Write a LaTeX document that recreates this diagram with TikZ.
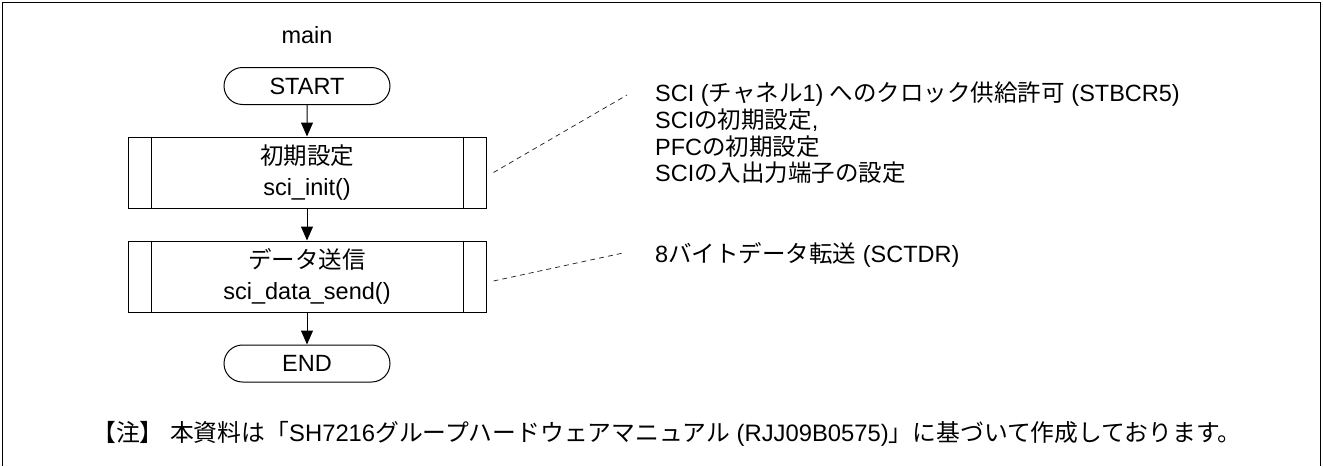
\documentclass[tikz,border=0pt]{standalone}
\usepackage{fontspec}
\setmainfont{Liberation Sans}
\newfontfamily\jpfont{Noto Sans CJK JP}
\newcommand{\J}[1]{{\jpfont #1}}
\usetikzlibrary{arrows.meta,shapes.misc}
\begin{document}
\begin{tikzpicture}[x=1pt,y=-1pt,
  every node/.style={font=\fontsize{23.5}{27}\selectfont, inner sep=0pt},
  term/.style={draw, rounded rectangle, minimum width=166pt, minimum height=37pt, line width=1pt},
  proc/.style={draw, rectangle, minimum width=358pt, minimum height=71pt, line width=1pt, align=center, font=\fontsize{23.5}{31}\selectfont},
  flow/.style={-{Triangle[length=14pt,width=12pt]}, line width=1pt},
  leader/.style={dash pattern=on 5pt off 4pt, line width=0.75pt, black!85},
  txt/.style={align=left, anchor=west, font=\fontsize{23.5}{26.7}\selectfont}]
\useasboundingbox (0,0) rectangle (1323,466);
\draw[line width=1.5pt] (2.5,466) -- (2.5,2.5) -- (1320.5,2.5) -- (1320.5,466);

\node (title) at (307,35) {main};
\node[term] (start) at (307,86) {START};
\node[proc] (init) at (307,172.5) {\J{初期設定}\\sci\_init()};
\node[proc] (send) at (307,276.5) {\J{データ送信}\\sci\_data\_send()};
\node[term] (end) at (307,363.5) {END};

\foreach \n in {init,send} {
  \draw[line width=1pt] ([xshift=24pt]\n.north west) -- ([xshift=24pt]\n.south west);
  \draw[line width=1pt] ([xshift=-23pt]\n.north east) -- ([xshift=-23pt]\n.south east);
}

\draw[flow] (start) -- (init);
\draw[flow] (init) -- (send);
\draw[flow] (send) -- (end);

\node[txt] (desc1) at (655,133) {SCI (\J{チャネル}1) \J{へのクロック供給許可} (STBCR5)\\SCI\J{の初期設定},\\PFC\J{の初期設定}\\SCI\J{の入出力端子の設定}};
\node[txt] (desc2) at (655,255) {8\J{バイトデータ転送} (SCTDR)};

\coordinate (d1e) at (627,95);
\coordinate (d2e) at (623,253);
\draw[leader] ([xshift=7pt]init.east) -- (d1e);
\draw[leader] ([xshift=7pt,yshift=-4.5pt]send.east) -- (d2e);

\node[txt, font=\fontsize{23.8}{27}\selectfont] (footnote) at (92,434) {\J{【注】} \J{本資料は「}SH7216\J{グループハードウェアマニュアル} (RJJ09B0575)\J{」に基づいて作成しております。}};
\end{tikzpicture}
\end{document}
